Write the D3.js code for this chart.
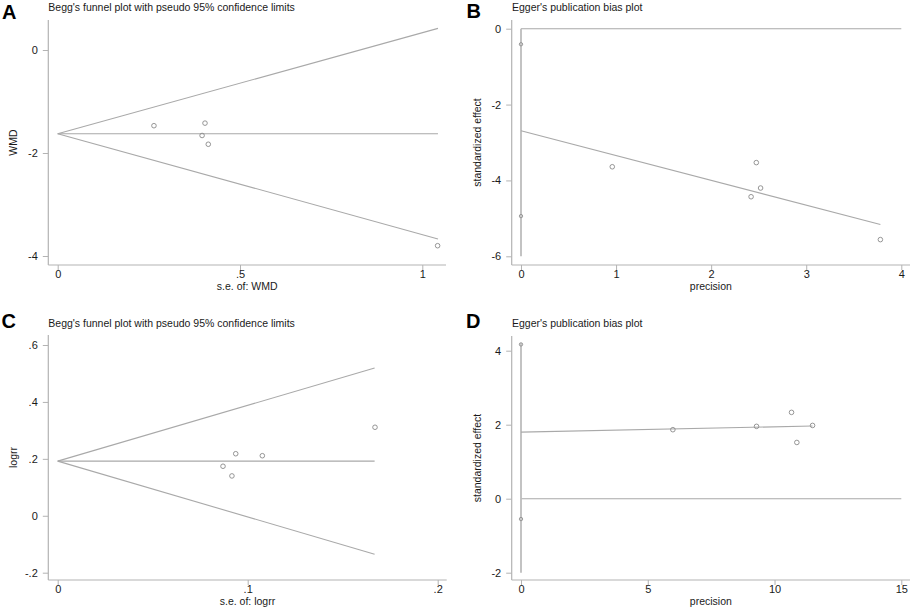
<!DOCTYPE html>
<html>
<head>
<meta charset="utf-8">
<script src="https://cdn.jsdelivr.net/npm/d3@7/dist/d3.min.js"></script>
<style>
  html, body { margin: 0; padding: 0; background: #fff; }
  svg { display: block; }
  text { font-family: "Liberation Sans", Arial, sans-serif; }
</style>
</head>
<body>
<svg id="chart" width="913" height="609"></svg>
<script>
// ---------- DATA ----------
// Panel A: Begg's funnel plot (WMD)
const aSe = [0.264, 0.404, 0.396, 0.413, 1.042];
const aWmd = [-1.47, -1.42, -1.66, -1.83, -3.80];
const aPooled = -1.625;
const aSeMax = 1.043;
const aUpperEnd = 0.42;
const aLowerEnd = -3.67;
const aXTicks = [0, 0.5, 1];
const aXTickLabels = ["0", ".5", "1"];
const aYTicks = [0, -2, -4];
const aYTickLabels = ["0", "-2", "-4"];

// Panel B: Egger's plot
const bPrecision = [0.96, 2.475, 2.42, 2.52, 3.78];
const bEffect = [-3.64, -3.53, -4.43, -4.20, -5.56];
const bFitX = [0, 3.78];
const bFitY = [-2.69, -5.16];
const bCI = [-0.41, -4.94];
const bVLine = [0, -6];
const bZeroX = [0, 4];
const bXTicks = [0, 1, 2, 3, 4];
const bXTickLabels = ["0", "1", "2", "3", "4"];
const bYTicks = [0, -2, -4, -6];
const bYTickLabels = ["0", "-2", "-4", "-6"];

// Panel C: Begg's funnel plot (logrr)
const cSe = [0.0870, 0.0917, 0.0937, 0.1077, 0.167];
const cLogrr = [0.174, 0.140, 0.218, 0.211, 0.311];
const cPooled = 0.192;
const cSeMax = 0.1668;
const cUpperEnd = 0.519;
const cLowerEnd = -0.135;
const cXTicks = [0, 0.1, 0.2];
const cXTickLabels = ["0", ".1", ".2"];
const cYTicks = [0.6, 0.4, 0.2, 0, -0.2];
const cYTickLabels = [".6", ".4", ".2", "0", "-.2"];

// Panel D: Egger's plot
const dPrecision = [5.99, 9.29, 10.67, 10.88, 11.50];
const dEffect = [1.865, 1.955, 2.333, 1.52, 1.98];
const dFitX = [0, 11.5];
const dFitY = [1.80, 1.964];
const dCI = [4.17, -0.55];
const dVLine = [4.17, -2];
const dZeroX = [0, 15];
const dXTicks = [0, 5, 10, 15];
const dXTickLabels = ["0", "5", "10", "15"];
const dYTicks = [4, 2, 0, -2];
const dYTickLabels = ["4", "2", "0", "-2"];

const titles = ["Begg's funnel plot with pseudo 95% confidence limits",
                "Egger's publication bias plot",
                "Begg's funnel plot with pseudo 95% confidence limits",
                "Egger's publication bias plot"];
const letters = ["A", "B", "C", "D"];
const xLabels = ["s.e. of: WMD", "precision", "s.e. of: logrr", "precision"];
const yLabels = ["WMD", "standardized effect", "logrr", "standardized effect"];

// ---------- STYLE / LAYOUT ----------
const LINE = "#a9a9a9";
const AXIS = "#b3b3b3";
const TEXT = "#1a1a1a";
const MARK = "#8a8a8a";
const FS = 10.5;
const TFS = 11;

const svg = d3.select("#chart");

function panel(cfg) {
  const g = svg.append("g");
  const x = d3.scaleLinear().domain(cfg.xd).range(cfg.xr);
  const y = d3.scaleLinear().domain(cfg.yd).range(cfg.yr);

  const xAxis = d3.axisBottom(x).tickValues(cfg.xTicks)
    .tickFormat((d, i) => cfg.xTickLabels[i]).tickSize(5).tickSizeOuter(0).tickPadding(0.5);
  const yAxis = d3.axisLeft(y).tickValues(cfg.yTicks)
    .tickFormat((d, i) => cfg.yTickLabels[i]).tickSize(5.5).tickSizeOuter(0).tickPadding(5);

  const gx = g.append("g").attr("transform", `translate(0,${cfg.axisY})`).call(xAxis);
  const gy = g.append("g").attr("transform", `translate(${cfg.axisX},0)`).call(yAxis);
  [gx, gy].forEach(a => {
    a.select(".domain").remove();
    a.selectAll(".tick line").attr("stroke", AXIS).attr("stroke-width", 1);
    a.selectAll(".tick text").attr("fill", TEXT).attr("font-size", TFS)
      .attr("font-family", "'Liberation Sans', Arial, sans-serif");
  });
  g.append("line").attr("x1", cfg.axisX).attr("x2", cfg.xEnd)
    .attr("y1", cfg.axisY).attr("y2", cfg.axisY).attr("stroke", AXIS).attr("stroke-width", 1.2);
  g.append("line").attr("x1", cfg.axisX).attr("x2", cfg.axisX)
    .attr("y1", cfg.yTop).attr("y2", cfg.axisY).attr("stroke", AXIS).attr("stroke-width", 1.2);

  const line = d3.line().x(d => x(d[0])).y(d => y(d[1]));
  (cfg.lines || []).forEach(l => {
    g.append("path").attr("d", line(l.pts)).attr("fill", "none")
      .attr("stroke", l.color || LINE).attr("stroke-width", l.w || 1.1);
  });

  g.selectAll("circle.pt").data(cfg.px.map((v, i) => [v, cfg.py[i]])).enter()
    .append("circle").attr("class", "pt")
    .attr("cx", d => x(d[0])).attr("cy", d => y(d[1])).attr("r", 2.3)
    .attr("fill", "none").attr("stroke", MARK).attr("stroke-width", 0.9);

  if (cfg.ci) {
    g.selectAll("circle.ci").data(cfg.ci).enter().append("circle").attr("class", "ci")
      .attr("cx", x(0)).attr("cy", d => y(d)).attr("r", 1.7)
      .attr("fill", "#c8c8c8").attr("stroke", MARK).attr("stroke-width", 0.8);
  }

  g.append("text").attr("x", cfg.titleX).attr("y", cfg.titleY).attr("font-size", FS)
    .attr("fill", TEXT).text(cfg.title);
  g.append("text").attr("x", cfg.letterX).attr("y", cfg.letterY).attr("font-size", 20)
    .attr("font-weight", "bold").attr("fill", "#000")
    .attr("font-family", "'Liberation Sans', Arial, sans-serif").text(cfg.letter);
  g.append("text").attr("x", (cfg.axisX + cfg.xEnd) / 2).attr("y", cfg.xLabelY)
    .attr("text-anchor", "middle").attr("font-size", FS).attr("fill", TEXT).text(cfg.xLabel);
  g.append("text").attr("transform", `translate(${cfg.yLabelX},${(cfg.yTop + cfg.axisY) / 2}) rotate(-90)`)
    .attr("text-anchor", "middle").attr("font-size", FS).attr("fill", TEXT).text(cfg.yLabel);
}

// A
panel({
  xd: [0, 1], xr: [57.7, 422.3], yd: [0, -4], yr: [50, 256],
  axisX: 48.3, axisY: 265, xEnd: 446, yTop: 20,
  xTicks: aXTicks, xTickLabels: aXTickLabels, yTicks: aYTicks, yTickLabels: aYTickLabels,
  px: aSe, py: aWmd,
  lines: [
    { pts: [[0, aPooled], [aSeMax, aUpperEnd]] },
    { pts: [[0, aPooled], [aSeMax, aLowerEnd]] },
    { pts: [[0, aPooled], [aSeMax, aPooled]] }
  ],
  title: titles[0], titleX: 48.3, titleY: 11,
  letter: letters[0], letterX: 2, letterY: 18.5,
  xLabel: xLabels[0], xLabelY: 290, yLabel: yLabels[0], yLabelX: 16.7
});

// B
panel({
  xd: [0, 4], xr: [521, 901.3], yd: [0, -6], yr: [28.7, 256.3],
  axisX: 511.7, axisY: 265, xEnd: 910, yTop: 20,
  xTicks: bXTicks, xTickLabels: bXTickLabels, yTicks: bYTicks, yTickLabels: bYTickLabels,
  px: bPrecision, py: bEffect,
  lines: [
    { pts: [[bZeroX[0], 0], [bZeroX[1], 0]] },
    { pts: [[0, bVLine[0]], [0, bVLine[1]]], w: 1.8, color: "#bdbdbd" },
    { pts: [[bFitX[0], bFitY[0]], [bFitX[1], bFitY[1]]] }
  ],
  ci: bCI,
  title: titles[1], titleX: 512, titleY: 11,
  letter: letters[1], letterX: 466.5, letterY: 17.8,
  xLabel: xLabels[1], xLabelY: 290, yLabel: yLabels[1], yLabelX: 480.5
});

// C
panel({
  xd: [0, 0.2], xr: [57.7, 437.7], yd: [0.6, -0.2], yr: [345, 572.7],
  axisX: 48.3, axisY: 580, xEnd: 446.7, yTop: 335,
  xTicks: cXTicks, xTickLabels: cXTickLabels, yTicks: cYTicks, yTickLabels: cYTickLabels,
  px: cSe, py: cLogrr,
  lines: [
    { pts: [[0, cPooled], [cSeMax, cUpperEnd]] },
    { pts: [[0, cPooled], [cSeMax, cLowerEnd]] },
    { pts: [[0, cPooled], [cSeMax, cPooled]] }
  ],
  title: titles[2], titleX: 48.3, titleY: 327,
  letter: letters[2], letterX: 1.5, letterY: 328.3,
  xLabel: xLabels[2], xLabelY: 605, yLabel: yLabels[2], yLabelX: 16.7
});

// D
panel({
  xd: [0, 15], xr: [521, 901.3], yd: [4, -2], yr: [350.7, 572.7],
  axisX: 511.7, axisY: 580, xEnd: 910, yTop: 336,
  xTicks: dXTicks, xTickLabels: dXTickLabels, yTicks: dYTicks, yTickLabels: dYTickLabels,
  px: dPrecision, py: dEffect,
  lines: [
    { pts: [[dZeroX[0], 0], [dZeroX[1], 0]] },
    { pts: [[0, dVLine[0]], [0, dVLine[1]]], w: 1.8, color: "#bdbdbd" },
    { pts: [[dFitX[0], dFitY[0]], [dFitX[1], dFitY[1]]] }
  ],
  ci: dCI,
  title: titles[3], titleX: 512, titleY: 327.3,
  letter: letters[3], letterX: 466, letterY: 327.5,
  xLabel: xLabels[3], xLabelY: 605, yLabel: yLabels[3], yLabelX: 480.5
});
</script>
</body>
</html>
